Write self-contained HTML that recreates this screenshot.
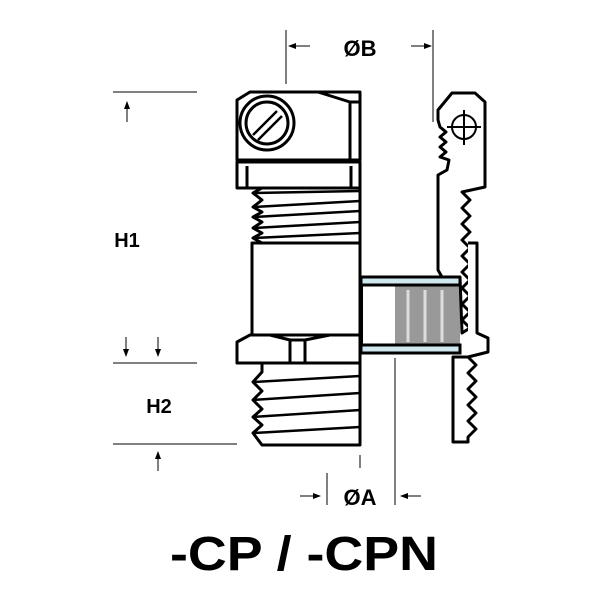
<!DOCTYPE html>
<html><head><style>body{margin:0;background:#fff}svg{display:block}</style></head><body>
<svg width="600" height="600" viewBox="0 0 600 600" xmlns="http://www.w3.org/2000/svg" font-family="Liberation Sans, sans-serif">
<defs><marker id="a" markerWidth="8" markerHeight="6" refX="7" refY="3" orient="auto"><path d="M0,0 L8,3 L0,6z" fill="#000"/></marker></defs>
<g stroke="#000" stroke-width="1" fill="none">
<line x1="286" y1="30" x2="286" y2="84"/><line x1="433" y1="30" x2="433" y2="122"/>
<line x1="310" y1="46" x2="289" y2="46" marker-end="url(#a)"/><line x1="411" y1="46" x2="431" y2="46" marker-end="url(#a)"/>
<line x1="113" y1="92" x2="197" y2="92"/><line x1="127" y1="122" x2="127" y2="102" marker-end="url(#a)"/>
<line x1="113" y1="363" x2="197" y2="363"/><line x1="126" y1="337" x2="126" y2="356" marker-end="url(#a)"/><line x1="158" y1="337" x2="158" y2="356" marker-end="url(#a)"/>
<line x1="113" y1="444" x2="237" y2="444"/><line x1="158" y1="471" x2="158" y2="452" marker-end="url(#a)"/>
<line x1="360" y1="455" x2="360" y2="468"/><line x1="327" y1="473" x2="327" y2="505"/><line x1="395" y1="358" x2="395" y2="505"/>
<line x1="300" y1="496" x2="320" y2="496" marker-end="url(#a)"/><line x1="421" y1="496" x2="401" y2="496" marker-end="url(#a)"/>
</g>
<g font-weight="bold" fill="#000" text-anchor="middle">
<text x="360" y="56" font-size="22">ØB</text>
<text x="127" y="247" font-size="20">H1</text>
<text x="159" y="413" font-size="20">H2</text>
<text x="360" y="505" font-size="22">ØA</text>
<text x="304" y="570" font-size="48" textLength="268" lengthAdjust="spacingAndGlyphs">-CP / -CPN</text>
</g>
<g stroke="#000" stroke-width="3" fill="#fff" stroke-linejoin="round">
<path d="M237,100 L250,92 L360,92 L360,160 L237,160 Z"/>
<path d="M318,92 L350,102 L350,160" fill="none"/>
<line x1="350" y1="102" x2="360" y2="102"/>
<circle cx="267" cy="123" r="27"/><circle cx="267" cy="123" r="21"/>
<path d="M253,135 L277,111 M258,140 L282,116" stroke-width="2.5"/>
<rect x="237" y="162" width="123" height="26"/>
<line x1="247" y1="166" x2="247" y2="188"/><line x1="351" y1="166" x2="351" y2="188"/>
<path d="M262,188 L360,188 L360,243 L262,243 L253,238 L262,233 L253,228 L262,222 L253,217 L262,212 L253,207 L262,200 L253,193 Z"/>
<path d="M253,193 L360,191 M253,207 L360,201 M253,217 L360,211 M253,228 L360,222 M253,238 L360,233" stroke-width="2.5" fill="none"/>
<rect x="252" y="243" width="108" height="92"/>
<path d="M250,335 L360,335 L360,363 L237,363 L237,342 Z"/>
<path d="M270,335 L290,340 L305,340 L330,335" fill="none"/>
<rect x="290" y="340" width="15" height="23"/>
<path d="M262,363 L360,363 L360,445 L262,445 L253,433 L262,425 L253,417 L262,409 L253,400 L262,391 L253,382 L262,372 Z"/>
<path d="M253,382 L360,376 M253,400 L360,393 M253,417 L360,410 M253,433 L360,427" stroke-width="2.5" fill="none"/>
</g>
<rect x="395" y="285" width="65" height="60" fill="#999"/>
<g stroke="#ddd" stroke-width="3"><line x1="408" y1="290" x2="408" y2="342"/><line x1="425" y1="290" x2="425" y2="342"/><line x1="442" y1="290" x2="442" y2="342"/></g>
<g stroke="#000" stroke-width="3" fill="#cfe8f0">
<rect x="361" y="277" width="99" height="8"/>
<rect x="361" y="345" width="99" height="8"/>
</g>
<line x1="362" y1="285" x2="362" y2="345" stroke="#000" stroke-width="2"/>
<g stroke="#000" stroke-width="3" fill="#fff" stroke-linejoin="round">
<path d="M438,110 L452,93 L475,93 L485,102 L485,187 L462,192 L470,200 L462,208 L470,216 L462,224 L470,232 L462,240 L470,248 L462,256 L470,264 L462,272 L470,280 L462,288 L470,296 L462,304 L470,312 L462,320 L470,328 L462,333 L460,277 L442,277 L438,270 L438,175 L447,170 L449,160 L440,157 L446,152 L440,147 L446,142 L440,137 L446,132 L440,127 L438,120 Z"/>
<path d="M468,243 L477,243 L477,333 L488,338 L488,352 L468,357 L476,365 L468,373 L476,381 L468,389 L476,397 L468,405 L476,413 L468,421 L476,429 L468,437 L468,442 L453,442 L453,357 L468,357" />
<circle cx="464" cy="127" r="12" stroke-width="2"/>
<path d="M464,110 L464,145 M447,127 L481,127" stroke-width="2"/>
</g>
</svg>
</body></html>
